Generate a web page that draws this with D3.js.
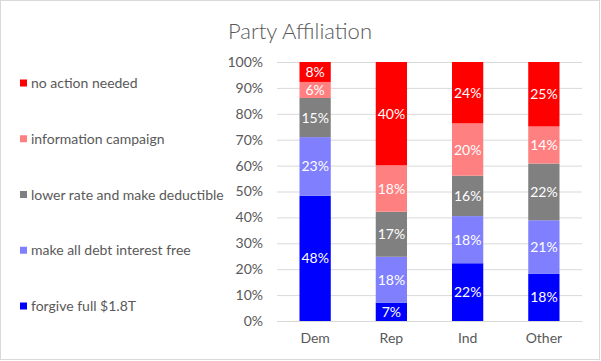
<!DOCTYPE html>
<html><head><meta charset="utf-8">
<script src="https://cdn.jsdelivr.net/npm/d3@7"></script>
<style>body{margin:0;background:#fff}svg{display:block}</style>
</head><body>
<svg id="c" width="601" height="361"></svg>
<script>
const categories = ["Dem", "Rep", "Ind", "Other"];
const seriesNames = ["forgive full $1.8T", "make all debt interest free", "lower rate and make deductible", "information campaign", "no action needed"];
const forgiveFull = [48.4, 7.1, 22.3, 18.3];
const interestFree = [22.6, 17.7, 18.2, 20.6];
const lowerRate = [15.1, 17.4, 15.6, 21.9];
const infoCampaign = [6.2, 17.9, 20.2, 14.3];
const noAction = [7.7, 39.9, 23.7, 24.9];
const yTicks = [0, 10, 20, 30, 40, 50, 60, 70, 80, 90, 100];
const colors = ["#0000FF", "#8080FF", "#808080", "#FF8080", "#FF0000"];

const seriesVals = [forgiveFull, interestFree, lowerRate, infoCampaign, noAction];
const keys = seriesNames;
const rows = categories.map((c, i) => {
  const r = {cat: c};
  keys.forEach((k, j) => r[k] = seriesVals[j][i]);
  return r;
});
const stack = d3.stack().keys(keys)(rows);

const svg = d3.select("#c");
const font = "Lato, 'Open Sans', sans-serif";
svg.append("rect").attr("x", 0.5).attr("y", 0.5).attr("width", 599).attr("height", 359)
  .attr("fill", "#fff").attr("stroke", "#d9d9d9");

const x = d3.scaleBand().domain(categories).range([277, 582]).paddingInner(0.59).paddingOuter(0.295);
const y = d3.scaleLinear().domain([0, 100]).range([321, 62]);

svg.append("text").attr("x", 300).attr("y", 39).attr("text-anchor", "middle")
  .attr("font-family", font).attr("font-size", 22).attr("font-weight", 300).attr("fill", "#595959")
  .text("Party Affiliation");

// grid
const yAxis = d3.axisLeft(y).tickValues(yTicks).tickSize(-(582 - 277)).tickFormat(d => d + "%").tickPadding(14);
const ga = svg.append("g").attr("transform", "translate(277,0)").call(yAxis);
ga.select(".domain").remove();
ga.selectAll("line").attr("stroke", "#d9d9d9");
ga.selectAll("text").attr("font-family", font).attr("font-size", 14).attr("fill", "#595959");

// bars
const g = svg.append("g");
stack.forEach((s, j) => {
  g.selectAll(null).data(s).enter().append("rect")
    .attr("x", d => x(d.data.cat)).attr("width", x.bandwidth())
    .attr("y", d => y(d[1])).attr("height", d => y(d[0]) - y(d[1]))
    .attr("fill", colors[j]);
  g.selectAll(null).data(s).enter().append("text")
    .attr("x", d => x(d.data.cat) + x.bandwidth() / 2)
    .attr("y", d => (y(d[0]) + y(d[1])) / 2)
    .attr("dy", "0.36em").attr("text-anchor", "middle")
    .attr("font-family", font).attr("font-size", 14).attr("fill", "#fff")
    .text(d => Math.round(d[1] - d[0]) + "%");
});

// x axis
const xAxis = d3.axisBottom(x).tickSize(0).tickPadding(12);
const gx = svg.append("g").attr("transform", "translate(0,321)").call(xAxis);
gx.select(".domain").attr("stroke", "#d9d9d9");
gx.selectAll("text").attr("font-family", font).attr("font-size", 14).attr("fill", "#595959");

// legend (top to bottom: reversed series)
const legendY = d3.scalePoint().domain(keys.slice().reverse()).range([83, 306]);
const lg = svg.append("g");
keys.forEach((k, j) => {
  lg.append("rect").attr("x", 20).attr("y", legendY(k) - 3.5).attr("width", 7).attr("height", 7).attr("fill", colors[j]);
  lg.append("text").attr("x", 31).attr("y", legendY(k)).attr("dy", "0.36em")
    .attr("font-family", font).attr("font-size", 14).attr("fill", "#595959").text(k);
});
</script>
</body></html>
